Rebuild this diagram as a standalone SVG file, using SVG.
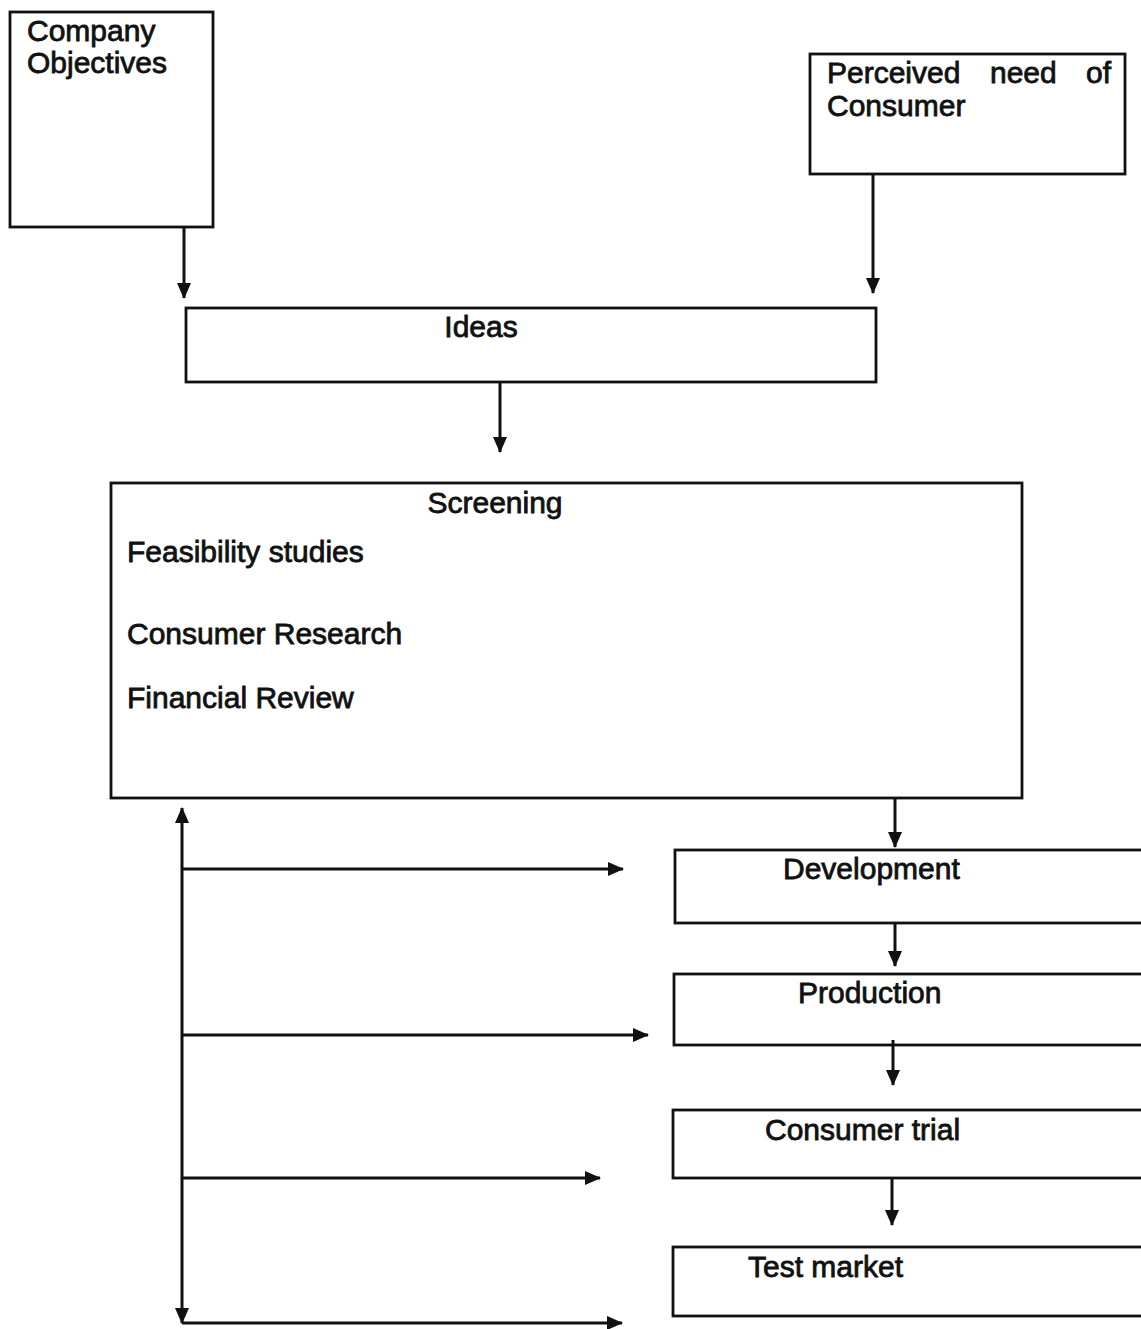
<svg xmlns="http://www.w3.org/2000/svg" width="1141" height="1329" viewBox="0 0 1141 1329">
<style>
.box{fill:#fff;stroke:#111;stroke-width:2.8}
.t{font-family:"Liberation Sans",Arial,sans-serif;font-size:30px;fill:#111;stroke:#111;stroke-width:0.8}
.c{fill:none;stroke:#111;stroke-width:3}
</style>
<defs>
<marker id="ah" viewBox="0 0 16 14" refX="15" refY="7" markerWidth="16" markerHeight="14" markerUnits="userSpaceOnUse" orient="auto-start-reverse">
<path d="M0,0 L16,7 L0,14 z" fill="#111"/>
</marker>
</defs>
<rect width="1141" height="1329" fill="#fff"/>
<g id="company-objectives">
<rect class="box" x="10" y="12" width="203" height="215"/>
<text class="t" x="27" y="41">Company</text>
<text class="t" x="27" y="73">Objectives</text>
</g>
<g id="perceived-need">
<rect class="box" x="810" y="54" width="315" height="120"/>
<text class="t" x="827" y="83">Perceived</text>
<text class="t" x="990" y="83">need</text>
<text class="t" x="1086" y="83">of</text>
<text class="t" x="827" y="116">Consumer</text>
</g>
<g id="ideas">
<rect class="box" x="186" y="308" width="690" height="74"/>
<text class="t" x="481" y="337" text-anchor="middle">Ideas</text>
</g>
<g id="screening">
<rect class="box" x="111" y="483" width="911" height="315"/>
<text class="t" x="495" y="513" text-anchor="middle">Screening</text>
<text class="t" x="127" y="562">Feasibility studies</text>
<text class="t" x="127" y="644">Consumer Research</text>
<text class="t" x="127" y="708">Financial Review</text>
</g>
<g id="development">
<rect class="box" x="675" y="850" width="480" height="73"/>
<text class="t" x="783" y="879">Development</text>
</g>
<g id="production">
<rect class="box" x="674" y="974" width="480" height="71"/>
<text class="t" x="798" y="1003">Production</text>
</g>
<g id="consumer-trial">
<rect class="box" x="673" y="1110" width="480" height="68"/>
<text class="t" x="765" y="1140">Consumer trial</text>
</g>
<g id="test-market">
<rect class="box" x="673" y="1247" width="480" height="69"/>
<text class="t" x="748" y="1277">Test market</text>
</g>
<g id="connectors">
<line class="c" x1="184" y1="227" x2="184" y2="298" marker-end="url(#ah)"/>
<line class="c" x1="873" y1="174" x2="873" y2="293" marker-end="url(#ah)"/>
<line class="c" x1="500" y1="382" x2="500" y2="452" marker-end="url(#ah)"/>
<line class="c" x1="895" y1="798" x2="895" y2="847" marker-end="url(#ah)"/>
<line class="c" x1="895" y1="923" x2="895" y2="966" marker-end="url(#ah)"/>
<line class="c" x1="893" y1="1040" x2="893" y2="1085" marker-end="url(#ah)"/>
<line class="c" x1="892" y1="1178" x2="892" y2="1225" marker-end="url(#ah)"/>
<line class="c" x1="182" y1="808" x2="182" y2="1323" marker-start="url(#ah)" marker-end="url(#ah)"/>
<line class="c" x1="182" y1="869" x2="623" y2="869" marker-end="url(#ah)"/>
<line class="c" x1="182" y1="1035" x2="648" y2="1035" marker-end="url(#ah)"/>
<line class="c" x1="182" y1="1178" x2="600" y2="1178" marker-end="url(#ah)"/>
<line class="c" x1="182" y1="1323" x2="622" y2="1323" marker-end="url(#ah)"/>
</g>
</svg>
